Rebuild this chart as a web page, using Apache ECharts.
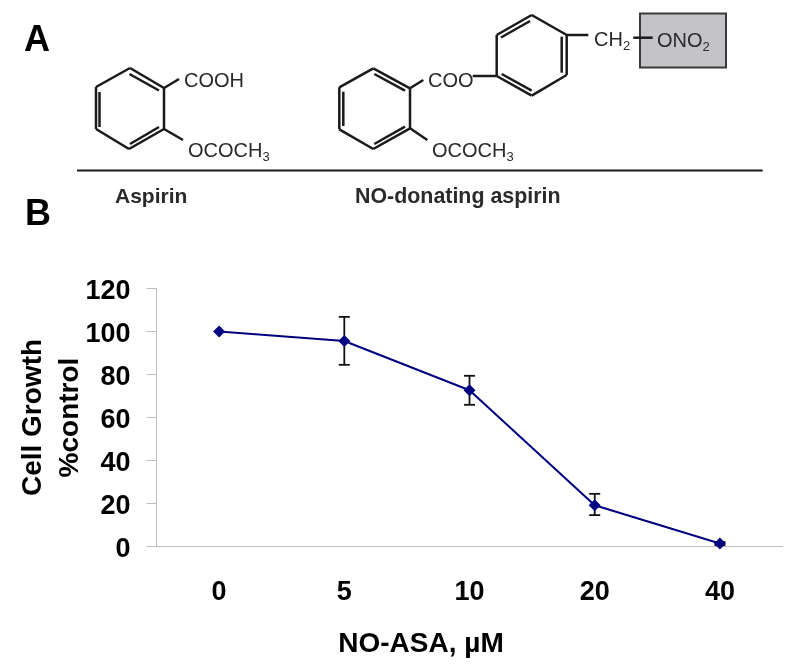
<!DOCTYPE html>
<html>
<head>
<meta charset="utf-8">
<script src="https://cdn.jsdelivr.net/npm/echarts@6/dist/echarts.min.js"></script>
<style>
  html, body { margin: 0; padding: 0; background: #fff; }
  #chart { width: 800px; height: 669px; }
</style>
</head>
<body>
<div id="chart"></div>
<script>
// panel B values
var doses = ['0', '5', '10', '20', '40']
var growth = [100, 95.6, 72.7, 19.2, 1.4]
var errLow = [null, 84.5, 65.9, 14.6, 0.7]
var errHigh = [null, 106.8, 79.4, 24.5, 2.1]
var yTicks = [0, 20, 40, 60, 80, 100, 120]

var fontName = '"Liberation Sans", Arial, sans-serif'

// panel A: bonds of the two structures, [x1, y1, x2, y2] in page pixels
var aspirinBonds = [
  [130, 68, 164, 88], [164, 88, 164, 129], [164, 129, 129, 149],
  [129, 149, 96, 129], [96, 129, 96, 87], [96, 87, 130, 68],
  [129.5, 74, 159, 90.5], [159, 127, 130, 144], [99.5, 92, 99.5, 127],
  [164, 88, 179, 79], [164, 129, 183, 140]
]
var noAspirinBonds = [
  [373.3, 68.3, 410, 88.3], [410, 88.3, 410, 128.3], [410, 128.3, 373.3, 149],
  [373.3, 149, 339.3, 129.3], [339.3, 129.3, 339.3, 87.3], [339.3, 87.3, 373.3, 68.3],
  [374.3, 74, 405, 90.7], [405, 126.7, 374.3, 144], [343.3, 91.7, 343.3, 126],
  [410, 88.3, 423.3, 80], [410, 128.3, 427.3, 140], [472.7, 76, 496.7, 76],
  [531.7, 15, 566.7, 35], [566.7, 35, 566.7, 75], [566.7, 75, 531.7, 95.7],
  [531.7, 95.7, 496.7, 76], [496.7, 76, 496.7, 35], [496.7, 35, 531.7, 15],
  [501, 37.5, 530, 21], [561.7, 36.7, 561.7, 72.7], [501.7, 74, 531.7, 90.7],
  [566.7, 35, 588.3, 35], [633.3, 37.7, 652.7, 37.7]
]

function bond(b, width) {
  return {
    type: 'line',
    z: 5,
    shape: { x1: b[0], y1: b[1], x2: b[2], y2: b[3] },
    style: { stroke: '#1a1a1a', lineWidth: width || 2.5 }
  }
}

function label(text, x, y, size, bold, color) {
  return {
    type: 'text',
    z: 6,
    x: x,
    y: y,
    style: {
      text: text,
      fill: color || '#2a2a2a',
      font: (bold ? 'bold ' : '') + size + 'px ' + fontName,
      verticalAlign: 'middle',
      rich: {
        s: { fontSize: 13, fontFamily: fontName, fill: '#2a2a2a', padding: [12, 0, 0, 0] }
      }
    }
  }
}

var graphics = [
  // grey box behind ONO2
  {
    type: 'rect',
    z: 4,
    shape: { x: 640, y: 13.5, width: 86, height: 54 },
    style: { fill: '#c4c4c8', stroke: '#3a3a3a', lineWidth: 2 }
  },
  // rule between structures and names
  bond([77, 170.5, 762.7, 170.5], 2),
  label('A', 24, 41, 36, true, '#000'),
  label('B', 25, 215, 36, true, '#000'),
  label('COOH', 184, 81, 20),
  label('OCOCH{s|3}', 188, 151, 20),
  label('COO', 428, 81, 20),
  label('OCOCH{s|3}', 432, 151, 20),
  label('CH{s|2}', 594, 40, 20),
  label('ONO{s|2}', 657, 41, 20),
  label('Aspirin', 115, 197, 21, true),
  label('NO-donating aspirin', 355, 197, 21.4, true)
]
aspirinBonds.concat(noAspirinBonds).forEach(function (b) {
  graphics.push(bond(b))
})

var myChart = echarts.init(document.getElementById('chart'))
myChart.setOption({
  animation: false,
  backgroundColor: '#fff',
  graphic: graphics,
  grid: { left: 156.5, right: 17.5, top: 288.5, bottom: 122.5, outerBoundsMode: 'none' },
  xAxis: {
    type: 'category',
    data: doses,
    name: 'NO-ASA, µM',
    nameLocation: 'middle',
    nameGap: 84,
    nameTextStyle: {
      color: '#000', fontFamily: fontName, fontWeight: 'bold', fontSize: 28, padding: [0, 97, 0, 0]
    },
    axisLine: { lineStyle: { color: '#bdbdbd', width: 1 } },
    axisTick: { length: 9, lineStyle: { color: '#bdbdbd' } },
    axisLabel: { margin: 33, color: '#000', fontFamily: fontName, fontWeight: 'bold', fontSize: 27 }
  },
  yAxis: {
    type: 'value',
    min: yTicks[0],
    max: yTicks[yTicks.length - 1],
    interval: yTicks[1] - yTicks[0],
    name: 'Cell Growth\n%control',
    nameLocation: 'middle',
    nameGap: 68,
    nameMoveOverlap: false,
    nameTextStyle: {
      color: '#000', fontFamily: fontName, fontWeight: 'bold', fontSize: 28, lineHeight: 37, align: 'center'
    },
    axisLine: { show: true, lineStyle: { color: '#bdbdbd', width: 1 } },
    axisTick: { show: true, length: 10, lineStyle: { color: '#bdbdbd' } },
    splitLine: { show: false },
    axisLabel: {
      margin: 26,
      formatter: '{n|{value}}',
      rich: {
        n: { color: '#000', fontFamily: fontName, fontWeight: 'bold', fontSize: 27, padding: [6, 0, 0, 0] }
      }
    }
  },
  series: [
    {
      name: 'error',
      type: 'custom',
      z: 2,
      data: doses.map(function (d, i) { return [i, errLow[i], errHigh[i]] }),
      encode: { x: 0, y: [1, 2] },
      renderItem: function (params, api) {
        if (isNaN(api.value(1))) return
        var low = api.coord([api.value(0), api.value(1)])
        var high = api.coord([api.value(0), api.value(2)])
        var cap = 5.5
        var style = { stroke: '#111', lineWidth: 1.8, fill: 'none' }
        return {
          type: 'group',
          children: [
            { type: 'line', shape: { x1: low[0], y1: low[1], x2: high[0], y2: high[1] }, style: style },
            { type: 'line', shape: { x1: low[0] - cap, y1: low[1], x2: low[0] + cap, y2: low[1] }, style: style },
            { type: 'line', shape: { x1: high[0] - cap, y1: high[1], x2: high[0] + cap, y2: high[1] }, style: style }
          ]
        }
      }
    },
    {
      name: 'Cell Growth',
      type: 'line',
      z: 3,
      data: growth,
      symbol: 'diamond',
      symbolSize: 12,
      lineStyle: { color: '#000080', width: 2 },
      itemStyle: { color: '#000080' }
    }
  ]
})
</script>
</body>
</html>
